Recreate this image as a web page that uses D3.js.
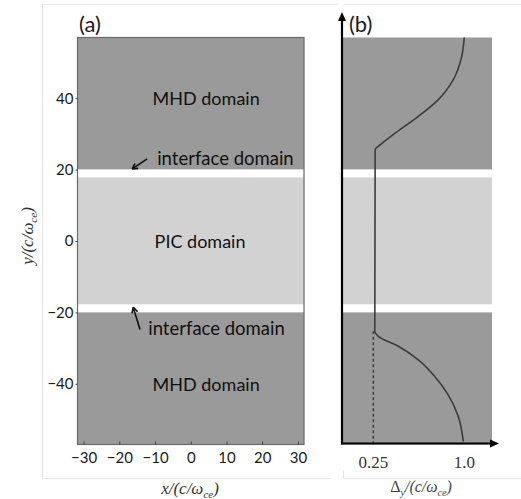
<!DOCTYPE html>
<html><head><meta charset="utf-8">
<script src="https://cdn.jsdelivr.net/npm/d3@7"></script>
<style>body{margin:0;background:#fff}svg{display:block}</style>
</head><body>
<script>
// ---- data ----
const xTicks = [-30, -20, -10, 0, 10, 20, 30];
const yTicks = [-40, -20, 0, 20, 40];
const xDomain = [-31.7, 31.7];
const yDomain = [-57, 57];
const bandType = ["MHD", "interface", "PIC", "interface", "MHD"];
const bandLow = [20, 17.8, -17.8, -20, -57];
const bandHigh = [57, 20, 17.8, -17.8, -20];
const labelText = ["MHD domain", "interface domain", "PIC domain", "interface domain", "MHD domain"];
const labelX = [4.3, -9.4, 2.6, -11.9, 4.3];
const labelY = [40, 23.3, 0, -24.3, -40];
const arrowFrom = [[-12.2, 23], [-14.2, -24.8]];
const arrowTo = [[-16.4, 20.2], [-16.1, -18.6]];
// panel b
const deltaTicks = [0.25, 1.0];
const deltaTickLabels = ["0.25", "1.0"];
const deltaDomain = [0, 1.228];
const curveY = [57.4, 51.8, 45.2, 39.6, 34.9, 30.2, 26.9, 25.6, -25.3, -26.7, -29.5, -33.3, -38.0, -42.8, -49.2, -56.2];
const curveD = [1.0, 0.979, 0.909, 0.786, 0.621, 0.429, 0.305, 0.265, 0.262, 0.291, 0.456, 0.621, 0.758, 0.862, 0.951, 0.992];
const minDelta = 0.25;

const W = 521, H = 499;
const svg = d3.select("body").append("svg").attr("width", W).attr("height", H);
const sans = "Lato, 'Open Sans', sans-serif";
const serif = "'Liberation Serif', 'DejaVu Serif', serif";
const dark = "#9a9a9a", light = "#d2d2d2";
const colorOf = t => t === "MHD" ? dark : (t === "PIC" ? light : "#ffffff");

// faint frames
const frame = svg.append("g").attr("stroke", "#e6e6e6").attr("fill", "none");
frame.append("path").attr("d", "M42.5,478.5 V4.5 H337.5");
frame.append("path").attr("d", "M42.5,478.5 H330");
frame.append("path").attr("d", "M343.5,478.5 V470 M343.5,4.5 H521 M343.5,478.5 H521");

const x = d3.scaleLinear().domain(xDomain).range([77.5, 304]);
const y = d3.scaleLinear().domain(yDomain).range([444.5, 37.5]);
const xb = d3.scaleLinear().domain(deltaDomain).range([343, 492]);

// ---- panel a ----
const ga = svg.append("g");
bandType.forEach((t, i) => {
  ga.append("rect").attr("x", x(xDomain[0])).attr("width", x(xDomain[1]) - x(xDomain[0]))
    .attr("y", y(bandHigh[i])).attr("height", y(bandLow[i]) - y(bandHigh[i]))
    .attr("fill", colorOf(t));
});
ga.append("rect").attr("x", x(xDomain[0])).attr("y", y(yDomain[1]))
  .attr("width", x(xDomain[1]) - x(xDomain[0])).attr("height", y(yDomain[0]) - y(yDomain[1]))
  .attr("fill", "none").attr("stroke", "#6a6a6a").attr("stroke-width", 1.2);

const xAx = ga.append("g").attr("transform", `translate(0,${y(yDomain[0])})`)
  .call(d3.axisBottom(x).tickValues(xTicks).tickSizeInner(-3).tickSizeOuter(0).tickPadding(8));
const yAx = ga.append("g").attr("transform", `translate(${x(xDomain[0])},0)`)
  .call(d3.axisLeft(y).tickValues(yTicks).tickSizeInner(2).tickSizeOuter(0).tickPadding(2));
[xAx, yAx].forEach(a => {
  a.select(".domain").remove();
  a.selectAll("line").attr("stroke", "#444");
  a.selectAll("text").attr("font-family", sans).attr("font-size", 15).attr("fill", "#1a1a1a");
});

labelText.forEach((t, i) => {
  const isIf = t.startsWith("interface");
  ga.append("text").attr("x", x(labelX[i])).attr("y", y(labelY[i]))
    .attr("text-anchor", isIf ? "start" : "middle").attr("dominant-baseline", "central")
    .attr("font-family", sans).attr("font-size", isIf ? 18.5 : 18).attr("fill", "#111").text(t);
});
arrowFrom.forEach((f, i) => {
  const x1 = x(f[0]), y1 = y(f[1]), x2 = x(arrowTo[i][0]), y2 = y(arrowTo[i][1]);
  ga.append("line").attr("x1", x1).attr("y1", y1).attr("x2", x2).attr("y2", y2)
    .attr("stroke", "#111").attr("stroke-width", 1.6);
  const ang = Math.atan2(y2 - y1, x2 - x1), L = 6, s = 0.5;
  ga.append("path").attr("d", `M${x2},${y2} L${x2 - L * Math.cos(ang - s)},${y2 - L * Math.sin(ang - s)} M${x2},${y2} L${x2 - L * Math.cos(ang + s)},${y2 - L * Math.sin(ang + s)}`)
    .attr("stroke", "#111").attr("stroke-width", 1.6).attr("fill", "none");
});
ga.append("text").attr("x", 79).attr("y", 32).attr("font-family", sans).attr("font-size", 22).attr("fill", "#1a1a1a").text("(a)");

// axis titles
const xt = ga.append("text").attr("x", 190).attr("y", 494).attr("text-anchor", "middle")
  .attr("font-family", serif).attr("font-style", "italic").attr("font-size", 17).attr("fill", "#333");
xt.append("tspan").text("x/(c/ω");
xt.append("tspan").attr("font-size", 11).attr("dy", 4).text("ce");
xt.append("tspan").attr("dy", -4).text(")");
const yt = ga.append("text").attr("transform", "translate(33,236) rotate(-90)").attr("text-anchor", "middle")
  .attr("font-family", serif).attr("font-style", "italic").attr("font-size", 17).attr("fill", "#333");
yt.append("tspan").text("y/(c/ω");
yt.append("tspan").attr("font-size", 11).attr("dy", 4).text("ce");
yt.append("tspan").attr("dy", -4).text(")");

// ---- panel b ----
const gb = svg.append("g");
bandType.forEach((t, i) => {
  gb.append("rect").attr("x", xb(0)).attr("width", xb(deltaDomain[1]) - xb(0))
    .attr("y", y(bandHigh[i])).attr("height", y(bandLow[i]) - y(bandHigh[i]))
    .attr("fill", colorOf(t));
});
svg.append("clipPath").attr("id", "cb").append("rect")
  .attr("x", xb(0)).attr("y", y(yDomain[1])).attr("width", 160).attr("height", y(yDomain[0]) - y(yDomain[1]));
const pts = curveY.map((v, i) => [curveD[i], v]);
gb.append("path").datum(pts).attr("clip-path", "url(#cb)")
  .attr("d", d3.line().x(d => xb(d[0])).y(d => y(d[1])).curve(d3.curveMonotoneY))
  .attr("fill", "none").attr("stroke", "#3c3c3c").attr("stroke-width", 1.6);
gb.append("line").attr("x1", xb(minDelta)).attr("x2", xb(minDelta))
  .attr("y1", y(curveY[8])).attr("y2", y(yDomain[0]))
  .attr("stroke", "#3c3c3c").attr("stroke-width", 1.5).attr("stroke-dasharray", "3,2.5");

// axes with arrows
const axX = xb(0) - 1, axY = y(yDomain[0]) - 1;
gb.append("line").attr("x1", axX).attr("x2", axX).attr("y1", axY + 1).attr("y2", 18).attr("stroke", "#000").attr("stroke-width", 2.2);
gb.append("path").attr("d", `M${axX},12 L${axX - 4},21 L${axX + 4},21 Z`).attr("fill", "#000");
gb.append("line").attr("x1", axX - 1).attr("x2", 494).attr("y1", axY).attr("y2", axY).attr("stroke", "#000").attr("stroke-width", 2.2);
gb.append("path").attr("d", `M499,${axY} L490,${axY - 4} L490,${axY + 4} Z`).attr("fill", "#000");
deltaTicks.forEach((t, i) => {
  gb.append("text").attr("x", xb(t)).attr("y", 468).attr("text-anchor", "middle")
    .attr("font-family", serif).attr("font-size", 17).attr("fill", "#333").text(deltaTickLabels[i]);
});
const bt = gb.append("text").attr("x", 421).attr("y", 492).attr("text-anchor", "middle")
  .attr("font-family", serif).attr("font-size", 16).attr("fill", "#444");
bt.append("tspan").text("Δ");
bt.append("tspan").attr("font-size", 10).attr("font-style", "italic").attr("dy", 4).text("y");
bt.append("tspan").attr("dy", -4).attr("font-style", "italic").text("/(c/ω");
bt.append("tspan").attr("font-size", 10).attr("font-style", "italic").attr("dy", 4).text("ce");
bt.append("tspan").attr("dy", -4).attr("font-style", "italic").text(")");
gb.append("text").attr("x", 349).attr("y", 32).attr("font-family", sans).attr("font-size", 22).attr("fill", "#1a1a1a").text("(b)");
</script>
</body></html>
